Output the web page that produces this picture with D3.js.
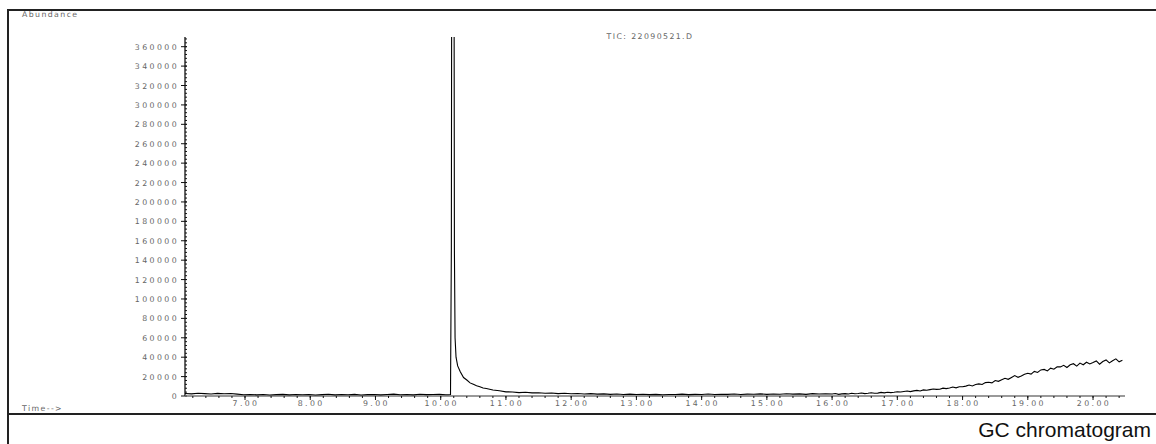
<!DOCTYPE html>
<html>
<head>
<meta charset="utf-8">
<script src="https://cdn.jsdelivr.net/npm/d3@7"></script>
<style>
  body { margin: 0; background: #fff; }
  .tick-label { font-family: "DejaVu Sans", sans-serif; font-size: 7.8px; fill: #666; letter-spacing: 2.4px; }
  .small-label { font-family: "DejaVu Sans", sans-serif; font-size: 7.8px; fill: #666; letter-spacing: 1.4px; }
</style>
</head>
<body>
<div id="chart"></div>
<script>
// baseline before the solvent peak, 0.1 min steps
const baseStart = 6.08, baseStep = 0.1;
const baseline = [
  2600, 2200, 2900, 2400, 2000, 2700, 2300, 2500, 1900,
  1300, 1600, 1200, 1500, 1100, 1400, 1700, 1200, 1500, 1300,
  1600, 1100, 1400, 1800, 1200, 1500, 1300, 1700, 1100, 1400,
  1600, 1200, 1500, 1900, 1300, 1600, 1200, 1800, 1400, 1500,
  1700, 1300
];

// the big peak around 10.2 min
const peakTimes = [10.12, 10.15, 10.163, 10.168, 10.205, 10.21, 10.22, 10.235, 10.26, 10.3, 10.35, 10.4, 10.45, 10.5, 10.55, 10.6, 10.65, 10.7, 10.8, 10.9, 11.0];
const peakValues = [1300, 1500, 150000, 420000, 420000, 150000, 60000, 40000, 31000, 25000, 19000, 16500, 13500, 12000, 10500, 9500, 8200, 7800, 6200, 5400, 4300];

// tail after the peak, 0.1 min steps
const tailStart = 11.1, tailStep = 0.1;
const tail = [
  4200, 3500, 3900, 3200, 3400, 2800, 3100, 2500, 2800, 2300,
  2600, 2100, 2400, 1900, 2200, 1700, 2000, 1600, 1900, 1500,
  1800, 1400, 1700, 1300, 1600, 1500, 1900, 1400, 1700, 1600,
  2000, 1500, 1800, 1700, 2100, 1600, 1900, 1800, 2200, 1700,
  2100, 1800, 2300, 1900, 2200, 1700, 2400, 2000, 2300
];

// column bleed at the end, 0.05 min steps
const riseStart = 16.0, riseStep = 0.05;
const rise = [
  2000, 2500, 1700, 2200, 2400, 2000, 2800, 2300, 2600, 3100,
  2500, 2900, 3400, 2800, 3000, 3700, 3200, 3900, 3500, 3800,
  4400, 4100, 4700, 5200, 4500, 5300, 5800, 5200, 6300, 5900,
  6600, 7200, 6800, 7000, 8100, 7600, 8300, 9200, 8400, 9500,
  9600, 10200, 11300, 10400, 11800, 12500, 11900, 13800, 14200, 13500,
  16000, 15100, 16800, 18300, 17200, 19100, 21000, 19300, 20600, 22400,
  23500, 22600, 25400, 24300, 26900, 27400, 25800, 28700, 27600, 30200,
  30000, 31600, 29400, 32100, 33300, 30800, 33900, 32200, 34800, 33100,
  34500, 36100, 32800, 35600, 37200, 34100, 36400, 38300, 35200, 36800
];

const xTicks = [7, 8, 9, 10, 11, 12, 13, 14, 15, 16, 17, 18, 19, 20];
const yTicks = [0, 20000, 40000, 60000, 80000, 100000, 120000, 140000, 160000, 180000,
  200000, 220000, 240000, 260000, 280000, 300000, 320000, 340000, 360000];
const title = "TIC: 22090521.D";

const points = [];
baseline.forEach((v, i) => points.push([baseStart + i * baseStep, v]));
peakTimes.forEach((t, i) => points.push([t, peakValues[i]]));
tail.forEach((v, i) => points.push([tailStart + i * tailStep, v]));
rise.forEach((v, i) => points.push([riseStart + i * riseStep, v]));

const W = 1156, H = 444;
const svg = d3.select('#chart').append('svg')
    .attr('width', W)
    .attr('height', H);

const plotLeft = 185, plotRight = 1125, plotTop = 37, plotBottom = 396;

const x = d3.scaleLinear().domain([6.08, 20.49]).range([plotLeft, plotRight]);
const y = d3.scaleLinear().domain([0, 370000]).range([plotBottom, plotTop]);

// frame
svg.append('path')
    .attr('d', `M${W},10 H8 V${H}`)
    .attr('fill', 'none').attr('stroke', '#222').attr('stroke-width', 2);
svg.append('line')
    .attr('x1', 8).attr('x2', W).attr('y1', 414).attr('y2', 414)
    .attr('stroke', '#222').attr('stroke-width', 2);

svg.append('text').attr('class', 'small-label').attr('x', 22).attr('y', 17).text('Abundance');
svg.append('text').attr('class', 'small-label').attr('x', 22).attr('y', 411).text('Time-->');
svg.append('text').attr('class', 'small-label').attr('x', 650).attr('y', 39)
    .attr('text-anchor', 'middle').text(title);

svg.append('text')
    .attr('x', 1151).attr('y', 437)
    .attr('text-anchor', 'end')
    .style('font-family', '"Liberation Sans", Arial, sans-serif')
    .style('font-size', '21px')
    .style('fill', '#111')
    .text('GC chromatogram');

// y axis
const yAxis = svg.append('g');
yAxis.append('line')
    .attr('x1', plotLeft).attr('x2', plotLeft).attr('y1', plotTop).attr('y2', plotBottom)
    .attr('stroke', '#111').attr('stroke-width', 1.3);
yAxis.selectAll('.minor')
    .data(d3.range(0, 370001, 4000))
    .join('line')
      .attr('class', 'minor')
      .attr('x1', plotLeft).attr('x2', plotLeft + 2)
      .attr('y1', d => y(d)).attr('y2', d => y(d))
      .attr('stroke', '#111');
yAxis.selectAll('.major')
    .data(yTicks)
    .join('line')
      .attr('class', 'major')
      .attr('x1', plotLeft - 4).attr('x2', plotLeft + 2)
      .attr('y1', d => y(d)).attr('y2', d => y(d))
      .attr('stroke', '#111');
yAxis.selectAll('text')
    .data(yTicks)
    .join('text')
      .attr('class', 'tick-label')
      .attr('x', plotLeft - 6)
      .attr('y', d => y(d) + 3)
      .attr('text-anchor', 'end')
      .text(d => d);

// x axis
const xAxis = svg.append('g');
xAxis.append('line')
    .attr('x1', plotLeft).attr('x2', plotRight).attr('y1', plotBottom).attr('y2', plotBottom)
    .attr('stroke', '#777').attr('stroke-width', 1.3);
xAxis.selectAll('.minor')
    .data(d3.range(6.2, 20.49, 0.2))
    .join('line')
      .attr('class', 'minor')
      .attr('x1', d => x(d)).attr('x2', d => x(d))
      .attr('y1', plotBottom).attr('y2', plotBottom + 2)
      .attr('stroke', '#111');
xAxis.selectAll('.major')
    .data(xTicks)
    .join('line')
      .attr('class', 'major')
      .attr('x1', d => x(d)).attr('x2', d => x(d))
      .attr('y1', plotBottom).attr('y2', plotBottom + 4)
      .attr('stroke', '#111');
xAxis.selectAll('text')
    .data(xTicks)
    .join('text')
      .attr('class', 'tick-label')
      .attr('x', d => x(d) + 1)
      .attr('y', plotBottom + 10)
      .attr('text-anchor', 'middle')
      .text(d => d.toFixed(2));

// signal
svg.append('clipPath').attr('id', 'plot-clip')
  .append('rect')
    .attr('x', plotLeft).attr('y', plotTop)
    .attr('width', plotRight - plotLeft).attr('height', plotBottom - plotTop + 1);

svg.append('path')
    .datum(points)
    .attr('clip-path', 'url(#plot-clip)')
    .attr('fill', 'none')
    .attr('stroke', '#000')
    .attr('stroke-width', 1.1)
    .attr('d', d3.line().x(d => x(d[0])).y(d => y(d[1])));
</script>
</body>
</html>
